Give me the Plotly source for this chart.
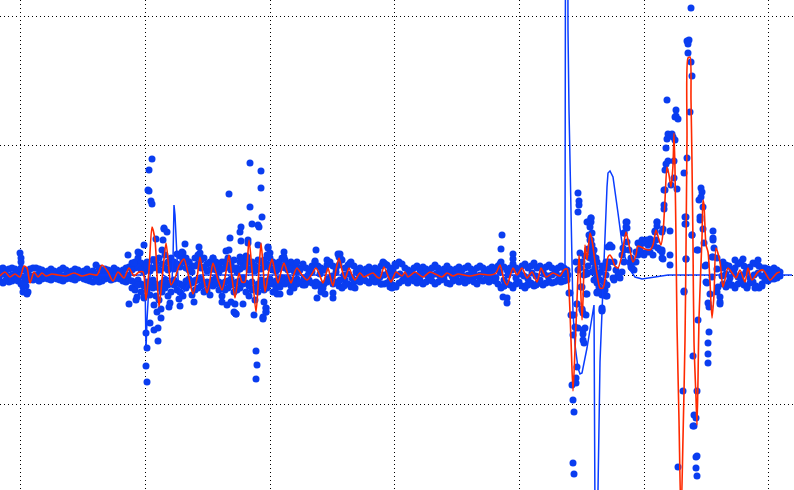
import plotly.graph_objects as go

# Axis ticks (axes carry no labels in the reference)
x_ticks = [20.5, 145.3, 270, 394.5, 519.3, 644.4, 768.5]
y_ticks = [16, 145.3, 275.3, 404.3]

# --- measured samples: band rows, one value every 3 samples ---
a_x = list(range(0, 132, 3))
a_top = [269,268,270,269,268,269,271,268,270,272,269,268,268,269,270,272,271,269,271,272,270,268,270,272,271,269,270,272,271,269,272,271,265,268,270,269,270,271,268,270,272,270,268,267]
a_bot = [281,283,280,282,281,279,281,284,282,280,279,280,279,281,279,278,279,280,278,279,280,281,279,278,279,280,278,277,279,280,281,282,279,282,281,279,278,280,279,278,279,281,282,280]

b_x = list(range(132, 300, 3))
b_top = [263,262,258,263,268,262,268,260,262,258,250,255,262,258,262,254,256,253,258,262,266,258,255,260,258,264,262,258,262,266,262,262,258,264,260,268,262,260,256,262,262,266,260,262,260,255,258,262,266,262,258,260,264,262,265,268]
b_up = [270,268,267,270,272,266,271,268,267,270,264,268,270,266,269,264,267,262,268,270,272,266,264,268,267,271,270,266,270,272,269,268,266,270,268,272,269,267,265,270,268,271,268,269,267,264,268,270,271,269,266,268,270,269,271,272]
b_low = [281,283,280,284,286,282,285,280,284,288,283,280,285,282,280,283,284,286,281,279,283,281,280,279,284,282,285,280,278,282,286,282,281,279,284,282,281,278,283,286,282,288,284,280,282,281,279,284,281,279,278,279,278,280,281,279]
b_bot = [288,290,285,292,298,290,295,288,296,300,292,288,296,292,285,290,292,296,288,285,295,290,288,286,292,290,295,286,284,290,296,290,288,285,292,290,288,284,292,296,290,300,292,286,290,288,284,292,288,284,282,284,282,286,288,284]

c_x = list(range(300, 348, 3))
c_top = [268,264,268,270,266,262,266,268,270,265,262,266,268,265,260,268]
c_bot = [282,285,283,280,283,286,284,288,284,282,280,284,282,286,288,280]

d_x = list(range(348, 498, 3))
d_top = [265,262,266,270,268,272,269,267,270,268,271,266,263,265,268,270,266,262,264,268,270,272,268,266,270,267,269,271,268,265,268,271,269,266,269,271,269,267,270,268,266,269,271,268,266,268,271,269,267,269]
d_bot = [284,287,282,280,282,279,281,283,280,282,279,284,284,283,280,285,287,283,281,280,283,279,281,283,280,284,282,279,281,284,282,280,279,283,284,281,279,282,280,283,281,279,282,284,280,281,279,282,280,281]

e_x = list(range(498, 570, 3))
e_top = [266,262,267,270,268,264,268,270,266,264,268,266,263,268,266,270,267,265,268,270,268,266,268,270]
e_bot = [284,288,286,283,285,288,284,282,286,288,285,283,286,284,282,285,283,281,283,282,280,282,281,280]

h_x = list(range(723, 783, 3))
h_top = [268,265,266,270,268,264,262,266,268,267,263,264,266,268,268,269,270,268,270,272]
h_bot = [284,287,282,285,288,284,280,285,287,283,282,286,288,284,280,281,279,279,278,276]

# centre row of the band, one value every 4 samples
core_x_a = list(range(0, 132, 4))
core_a = [275,274,276,275,273,276,277,274,276,275,274,276,275,274,276,275,276,274,275,276,274,275,276,275,274,276,275,274,276,275,273,276,275]
core_x_b = list(range(300, 572, 4))
core_b = [270,278,275,272,282,274,270,279,276,272,280,275,274,278,272,276,279,273,276,274,277,275,273,276,275,274,277,275,273,276,275,274,276,275,274,276,275,273,276,275,274,276,275,274,276,275,273,276,274,278,272,280,275,270,278,274,276,279,273,276,280,274,276,275,273,276,274,275]
core_x_c = list(range(722, 782, 4))
core_c = [276,274,278,273,277,275,272,278,275,273,276,274,275,274,275]

# scattered samples read one by one
out_x = [20,21,21,23,23,27,28,26,24,
 152,149,148,149,151,152,164,164,167,156,163,144,138,128,140,134,182,185,199,200,229,250,261,261,250,252,262,258,259,241,240,230,241,248,248,268,258,229,226,240,247,213,189,183,
 129,137,136,144,154,157,161,161,150,154,158,158,147,146,146,147,170,169,180,179,194,222,227,235,243,234,236,231,254,256,257,256,264,266,266,263,
 316,284,284,270,268,297,315,327,338,339,317,277,280,280,290,323,321,325,333,333,305,318,266,266,263,263,235,236,
 344,381,383,390,392,355,383,385,395,350,340,341,
 502,501,513,513,500,504,503,507,507,527,536,
 578,579,579,578,588,591,591,592,589,591,588,593,580,608,612,610,626,626,624,627,623,
 642,650,657,655,662,664,662,662,570,586,582,586,577,582,602,571,574,600,607,597,605,614,631,
 572,576,576,573,574,573,574,569,572,577,575,578,573,583,585,583,583,584,577,582,586,583,581,587,602,602,606,597,602,587,595,613,
 663,662,670,670,684,686,697,683,678,697,693,698,706,706,708,709,710,709,708,708,708,694,696,693,694,696,697,696,697,720,720,720,713,
 691,687,689,688,688,691,692,667,676,675,676,678,690,668,672,667,673,675,666,687,668,666,674,665,684,674,671,677,665,664,664,685,685,692,670,663,
 701,702,701,699,703,700,700,703,713,713,587,591,590,627,627,624,657,657,655,
 713,714,698,704,692,686,686,712,717,723,735,743,758,705,717,686,684,707,718,717,755,747,762,730,712,
 597,599,601,603,605,607,596,595,598,600,606,604,608,609,606,603,601,602,614,616,618,620,622,624,622,624,629,631,630,632,634,636,638,640,644,646,648,652,654,656,658,660,638,641,644,647,650,653,636,634,
 590,592,594,596,593,595,597,591,576,578,580,584,586,588,590,592,594,582,585]
out_y = [253,258,262,287,292,294,292,286,285,
 159,170,190,191,201,204,228,229,232,239,240,245,252,255,253,263,252,244,247,253,194,163,171,188,207,224,217,225,227,227,232,238,241,240,243,247,245,250,251,257,257,258,262,260,
 304,297,300,297,305,312,309,318,323,330,328,341,348,333,366,382,303,307,306,299,302,302,305,304,304,312,314,302,315,351,365,379,302,308,312,318,
 250,252,257,253,248,262,261,260,254,257,298,294,294,287,292,288,292,294,293,298,285,284,308,312,317,319,313,314,
 286,284,263,287,288,288,262,264,264,263,254,259,
 235,249,254,259,264,286,297,298,303,285,285,
 193,201,205,212,222,218,222,233,235,240,249,255,253,247,247,245,222,227,233,242,248,
 240,239,222,232,232,190,250,258,293,274,287,294,304,310,310,315,315,293,296,292,267,280,267,
 385,378,383,400,412,463,474,293,315,304,327,328,335,334,328,330,340,343,367,309,315,313,287,294,308,311,296,293,295,274,268,278,
 259,252,255,265,292,259,250,391,467,391,356,320,265,282,303,307,294,332,343,354,363,415,418,426,426,457,456,468,476,297,302,304,257,
 8,41,40,44,53,62,76,100,110,117,116,119,112,134,134,139,137,140,148,158,161,164,161,170,173,178,185,189,190,205,209,217,224,235,231,229,
 188,192,197,200,207,217,220,229,231,238,222,218,227,222,228,233,222,226,231,
 240,248,250,243,235,217,224,257,258,262,260,259,260,266,269,259,291,283,287,292,288,288,286,285,277,
 283,287,290,292,290,285,278,272,275,280,275,282,268,262,262,268,272,266,262,270,275,278,272,262,255,250,250,258,262,268,270,262,255,247,243,240,245,243,246,240,248,250,243,252,255,252,252,255,252,262,
 240,245,250,258,262,268,262,252,262,270,268,275,272,266,258,272,280,262,256]

# filtered signal (red)
red_x = [0,5,10,15,20,24,27,30,34,38,42,46,52,58,66,74,82,90,97,102,108,113,118,124,129,134,139,143,146,149,152,155,159,162,166,169,171,175,179,184,189,193,197,200,204,207,210,213,218,222,226,229,232,235,239,242,245,249,252,256,259,261,263,265,269,272,275,278,281,284,288,291,294,297,302,307,312,316,320,323,326,328,331,333,336,339,342,345,349,352,355,360,364,368,373,377,380,384,388,391,396,402,405,408,415,423,430,442,447,453,458,470,480,490,496,500,504,507,513,517,522,527,532,537,541,546,553,560,564,567,569,571,573,575,577,579,580,582,583,585,587,590,592,595,598,600,603,606,608,610,612,615,618,622,626,629,633,636,638,645,650,653,656,659,661,663,665,667,669,671,673,674,675,676,677,679,681,683,685,686,687,688,690,691,692,693,694,696,697,698,699,702,703,704,706,708,710,712,714,716,720,723,728,732,736,740,745,748,752,758,763,770,777,780]
red_y = [276,272,277,274,277,266,268,283,272,277,273,276,274,275,276,273,276,274,275,265,272,281,272,278,268,276,272,272,300,270,227,240,307,280,243,270,285,278,266,259,278,294,278,257,280,293,280,263,280,290,272,255,278,298,273,282,282,240,270,312,270,243,265,292,270,259,272,283,272,263,275,283,274,268,275,280,274,268,276,283,274,268,280,286,270,258,270,279,268,275,280,273,277,275,273,277,278,267,276,282,272,276,272,277,272,277,272,277,273,276,274,276,274,275,273,265,280,285,268,275,268,278,272,282,268,277,273,276,270,269,290,340,391,350,300,255,270,320,300,245,260,233,240,262,280,288,288,272,257,255,258,266,268,255,232,245,262,255,246,249,250,245,230,240,245,233,200,167,175,187,165,133,170,240,325,420,520,438,340,250,138,58,57,100,163,245,342,398,425,380,318,238,200,205,245,252,282,318,295,248,262,287,268,273,278,270,282,268,280,272,270,280,273,272,275]

# fitted response (blue)
blue_x = [0,120,143,145,146,147,149,152,155,158,163,168,172,173,174,175,176,178,180,185,190,200,300,450,564,565,566,567,568,569,571,572,573,575,578,580,582,587,590,593,594,595,596,597,598,600,603,605,607,608,610,613,615,618,622,625,630,635,642,648,658,668,792]
blue_y = [275,275,275,277,350,320,285,257,257,267,275,278,280,260,205,215,243,278,298,290,280,275,275,275,275,265,-400,-400,30,110,210,245,312,345,368,374,373,348,328,307,305,520,900,520,490,362,278,230,187,173,171,177,190,213,243,257,270,277,279,278,276,275,275]

dots_x = (a_x*2 + b_x*4 + c_x*2 + d_x*2 + e_x*2 + h_x*2 + core_x_a + core_x_b + core_x_c + out_x)
dots_y = (a_top + a_bot + b_top + b_up + b_low + b_bot + c_top + c_bot + d_top + d_bot + e_top + e_bot + h_top + h_bot + core_a + core_b + core_c + out_y)

fig = go.Figure()
fig.add_trace(go.Scatter(x=dots_x, y=dots_y, mode="markers", marker=dict(size=7, color="#0a3df0"), hoverinfo="skip"))
fig.add_trace(go.Scatter(x=blue_x, y=blue_y, mode="lines", line=dict(color="#0a3dff", width=1.5), hoverinfo="skip"))
fig.add_trace(go.Scatter(x=red_x, y=red_y, mode="lines", line=dict(color="#ff2a00", width=1.6, shape="spline", smoothing=0.7), hoverinfo="skip"))

grid = dict(showgrid=True, gridcolor="#000000", gridwidth=1, griddash="1px,3px", zeroline=False, showticklabels=False, ticks="", showline=False)
fig.update_xaxes(range=[0, 794], tickvals=x_ticks, **grid)
fig.update_yaxes(range=[490, 0], tickvals=y_ticks, **grid)
fig.update_layout(width=794, height=490, margin=dict(l=0, r=0, t=0, b=0), showlegend=False, plot_bgcolor="white", paper_bgcolor="white")
fig.write_html("out.html", config={"displayModeBar": False}, post_script="document.body.style.margin='0';document.body.style.overflow='hidden';")
